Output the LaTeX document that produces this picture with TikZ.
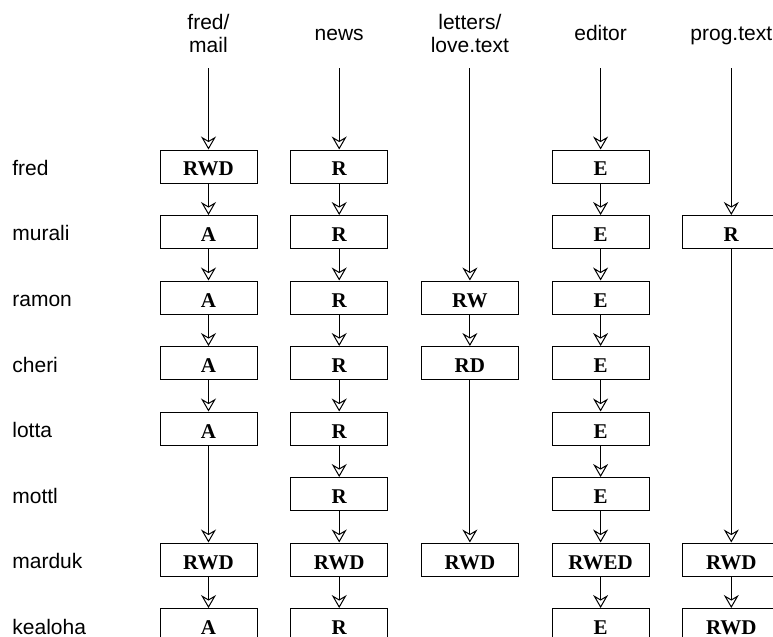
\documentclass[tikz,border=0pt]{standalone}
\usepackage{fontspec}
\setmainfont{Liberation Serif}
\setsansfont{Liberation Sans}
\usetikzlibrary{arrows.meta}
\newcommand{\labelfont}{\sffamily\fontsize{10.5}{11.5}\selectfont}
\newcommand{\permfont}{\rmfamily\bfseries\fontsize{10.5}{12}\selectfont}
\tikzset{
  perm/.style={
    draw, line width=0.5pt, fill=white,
    minimum width=48.5pt, minimum height=16.5pt, inner sep=0pt,
    text height=9.5pt, text depth=0pt, font=\permfont
  },
  user/.style={anchor=base west, inner sep=0pt, font=\labelfont},
  object/.style={align=center, inner sep=0pt, font=\labelfont},
  grant/.style={
    line width=0.5pt,
    -{Stealth[open, length=6.5pt, width=7.5pt, inset=2.2pt]}
  }
}

\begin{document}
\begin{tikzpicture}[x=0.5pt, y=-0.5pt]
  \useasboundingbox (0,0) rectangle (773,637);
  \clip (0,0) rectangle (773,637);
  %
  % users, one row each
  \foreach \u [count=\i] in {fred,murali,ramon,cheri,lotta,mottl,marduk,kealoha} {
    \coordinate (row\i) at (0,{166.5+(\i-1)*65.5});
    \node[user] (user-\u) at (12,{175.5+(\i-1)*65.5}) {\u};
  }
  %
  % objects, one column each
  \node[object] (hd-mail)   at (208.5,36) {fred/\strut\\mail\strut};
  \node[object] (hd-news)   at (339.2,36) {news\strut};
  \node[object] (hd-love)   at (469.9,36) {letters/\strut\\love.text\strut};
  \node[object] (hd-editor) at (600.6,36) {editor\strut};
  \node[object] (hd-prog)   at (731.3,36) {prog.text\strut};
  \coordinate (mail-top)   at (208.5,68);
  \coordinate (news-top)   at (339.2,68);
  \coordinate (love-top)   at (469.9,68);
  \coordinate (editor-top) at (600.6,68);
  \coordinate (prog-top)   at (731.3,68);
  %
  % access list of each object: row/rights
  \foreach \o/\grants in {
      mail/{1/RWD,2/A,3/A,4/A,5/A,7/RWD,8/A},
      news/{1/R,2/R,3/R,4/R,5/R,6/R,7/RWD,8/R},
      love/{3/RW,4/RD,7/RWD},
      editor/{1/E,2/E,3/E,4/E,5/E,6/E,7/RWED,8/E},
      prog/{2/R,7/RWD,8/RWD}} {
    \foreach \r/\p [remember=\r as \q (initially top)] in \grants {
      \node[perm] (\o-\r) at (\o-top |- row\r) {\p};
      \draw[grant] (\o-\q) -- (\o-\r);
    }
  }
\end{tikzpicture}
\end{document}
